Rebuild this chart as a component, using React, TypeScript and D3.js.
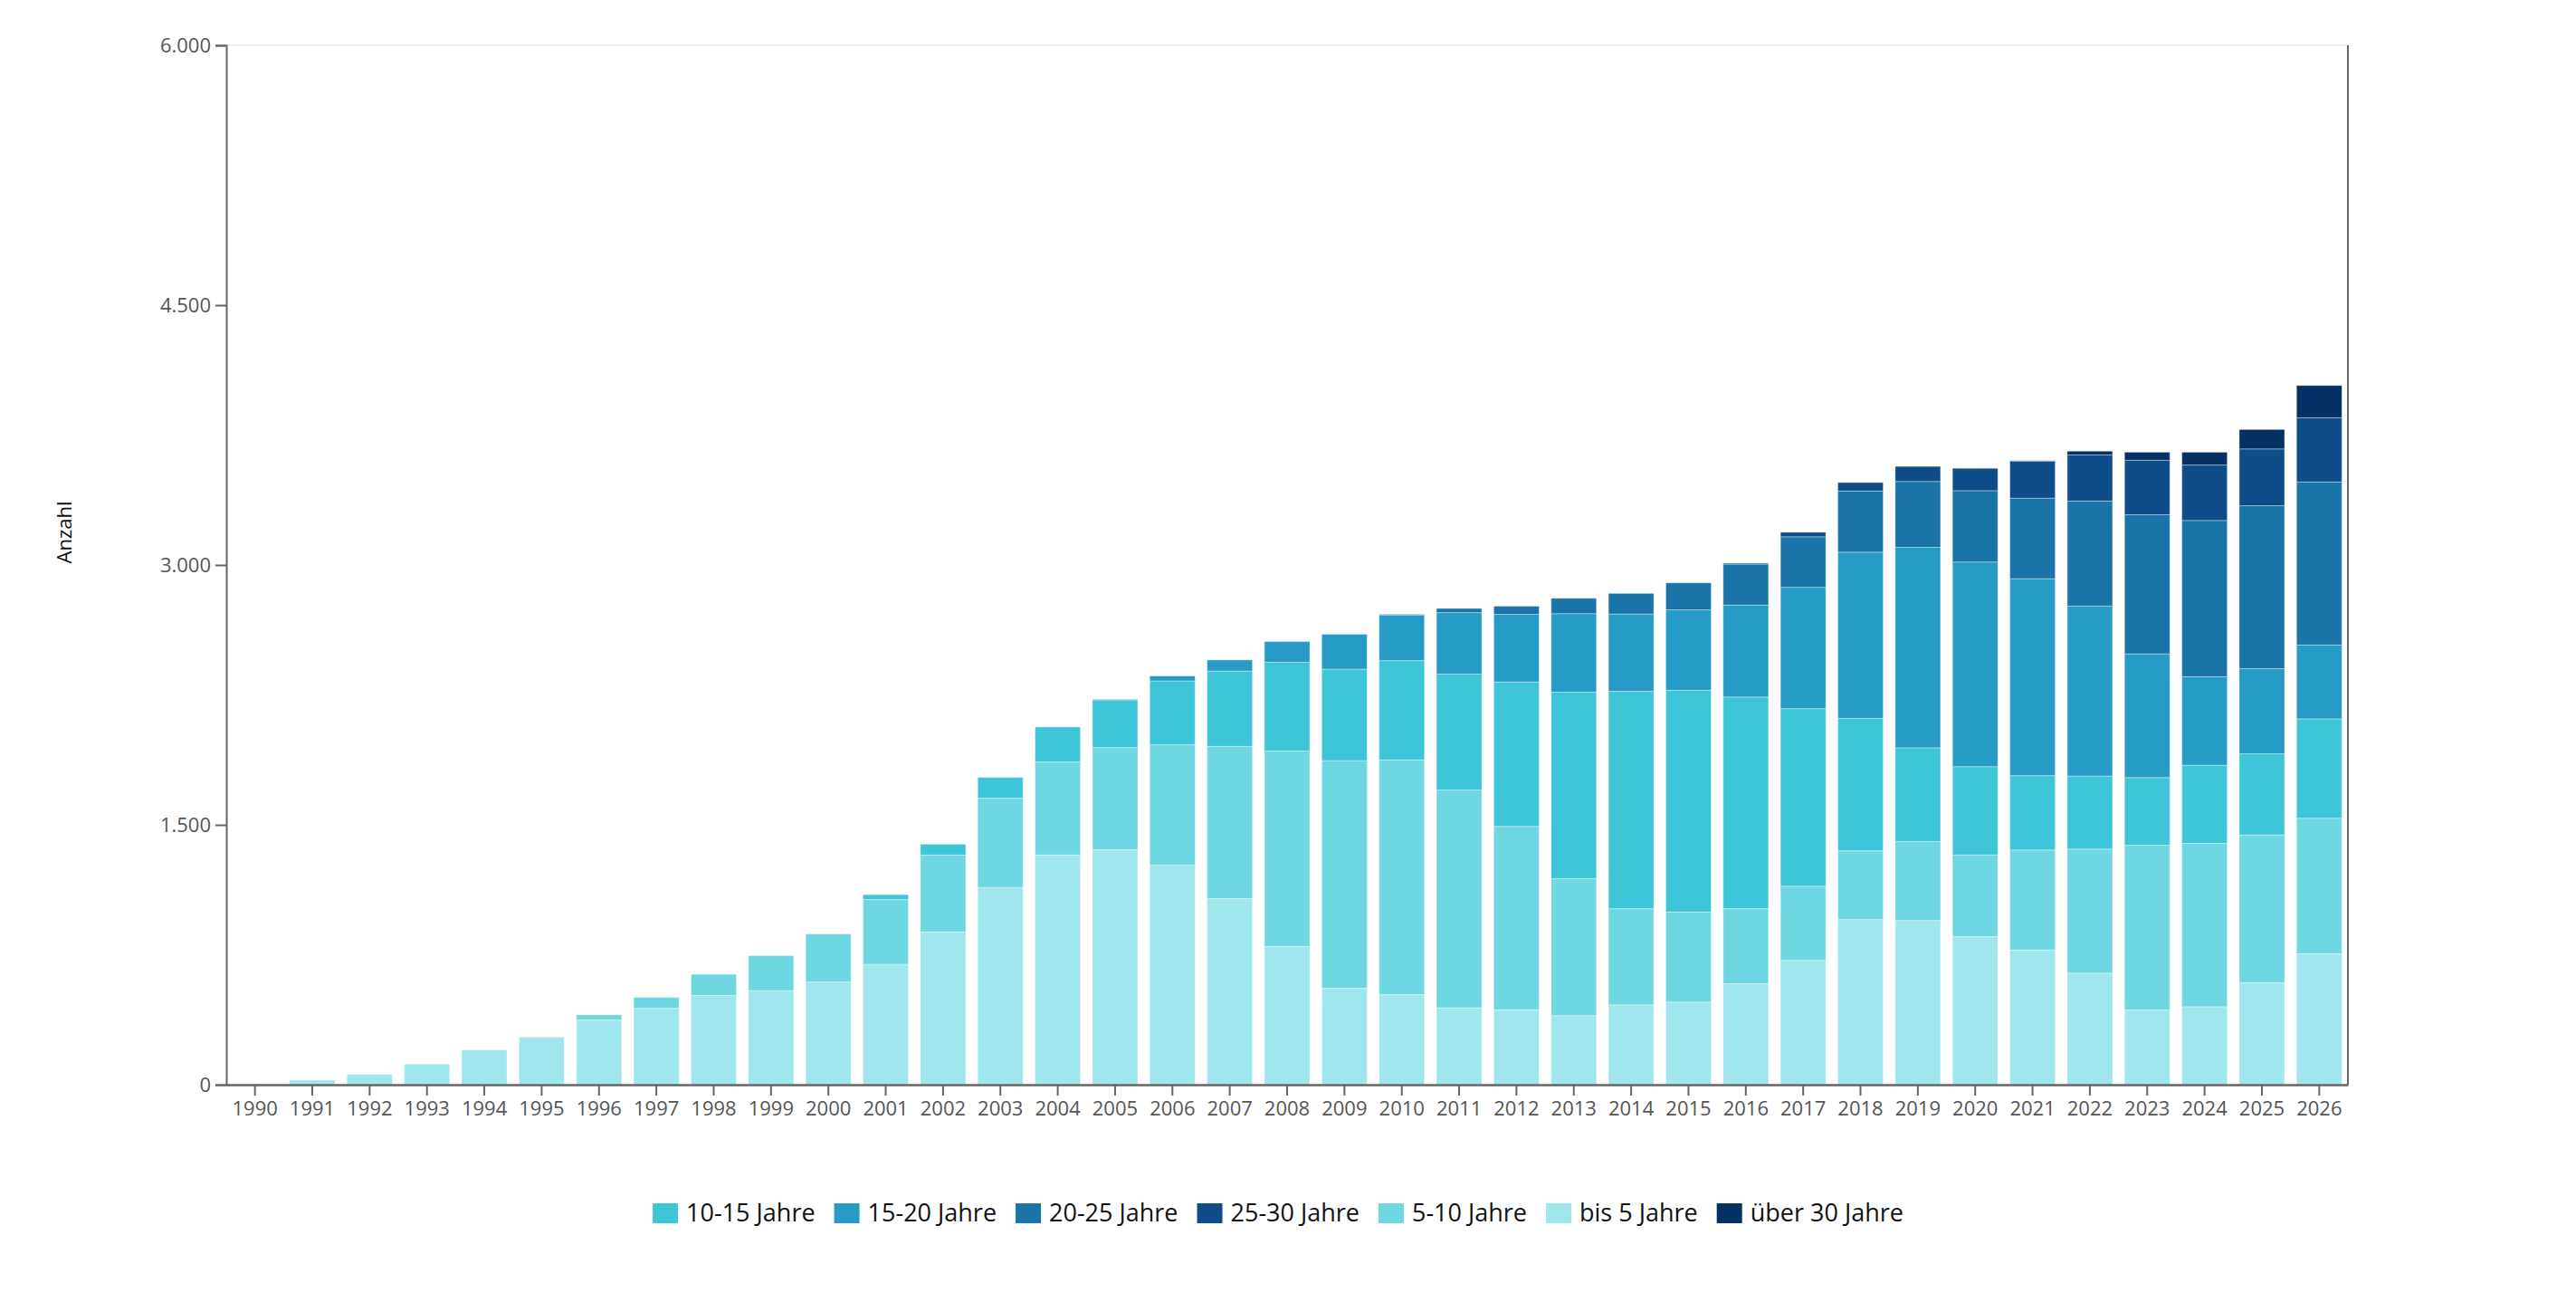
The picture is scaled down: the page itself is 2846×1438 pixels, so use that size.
import { useEffect, useRef } from 'react';
import * as d3 from 'd3';

// Jahre (Kategorien)
const years = [
  '1990', '1991', '1992', '1993', '1994', '1995', '1996', '1997', '1998', '1999',
  '2000', '2001', '2002', '2003', '2004', '2005', '2006', '2007', '2008', '2009',
  '2010', '2011', '2012', '2013', '2014', '2015', '2016', '2017', '2018', '2019',
  '2020', '2021', '2022', '2023', '2024', '2025', '2026',
];

// Werte je Altersklasse, von unten nach oben gestapelt
const bis5 = [5, 27, 60, 119, 201, 274, 374, 441, 515, 543, 593, 695, 882, 1139, 1326, 1357, 1267, 1075, 798, 557, 520, 444, 433, 399, 461, 477, 583, 718, 953, 948, 855, 778, 644, 431, 450, 589, 756];
const j5bis10 = [0, 0, 0, 0, 0, 0, 29, 63, 122, 202, 277, 374, 444, 515, 537, 589, 695, 878, 1128, 1314, 1355, 1257, 1058, 790, 555, 520, 433, 428, 397, 456, 472, 577, 716, 951, 943, 853, 782];
const j10bis15 = [0, 0, 0, 0, 0, 0, 0, 0, 0, 0, 0, 28, 62, 120, 202, 275, 369, 435, 513, 528, 573, 669, 834, 1077, 1255, 1280, 1222, 1025, 765, 541, 509, 429, 422, 391, 451, 468, 574];
const j15bis20 = [0, 0, 0, 0, 0, 0, 0, 0, 0, 0, 0, 0, 0, 0, 0, 3, 28, 64, 119, 201, 263, 355, 390, 453, 446, 464, 531, 700, 959, 1157, 1181, 1137, 981, 714, 511, 492, 426];
const j20bis25 = [0, 0, 0, 0, 0, 0, 0, 0, 0, 0, 0, 0, 0, 0, 0, 0, 0, 0, 0, 0, 4, 24, 47, 89, 119, 156, 236, 292, 353, 380, 412, 465, 606, 803, 902, 940, 941];
const j25bis30 = [0, 0, 0, 0, 0, 0, 0, 0, 0, 0, 0, 0, 0, 0, 0, 0, 0, 0, 0, 0, 0, 0, 0, 0, 0, 0, 5, 26, 49, 87, 129, 213, 266, 315, 320, 328, 371];
const ueber30 = [0, 0, 0, 0, 0, 0, 0, 0, 0, 0, 0, 0, 0, 0, 0, 0, 0, 0, 0, 0, 0, 0, 0, 0, 0, 0, 0, 0, 0, 0, 0, 3, 22, 46, 74, 112, 186];

const stackKeys = ['bis 5 Jahre', '5-10 Jahre', '10-15 Jahre', '15-20 Jahre', '20-25 Jahre', '25-30 Jahre', 'über 30 Jahre'];
const stackValues = [bis5, j5bis10, j10bis15, j15bis20, j20bis25, j25bis30, ueber30];
const legendKeys = ['10-15 Jahre', '15-20 Jahre', '20-25 Jahre', '25-30 Jahre', '5-10 Jahre', 'bis 5 Jahre', 'über 30 Jahre'];
const yTicks = [0, 1500, 3000, 4500, 6000];

const colors: Record<string, string> = {
  'bis 5 Jahre': '#9fe7ec',
  '5-10 Jahre': '#6fd7e2',
  '10-15 Jahre': '#3ec5d8',
  '15-20 Jahre': '#259bc6',
  '20-25 Jahre': '#1a74a8',
  '25-30 Jahre': '#0e4c8a',
  'über 30 Jahre': '#033164',
};

const W = 2846;
const H = 1438;
const FONT = '"Open Sans", "Noto Sans", sans-serif';

export default function App() {
  const svgRef = useRef<SVGSVGElement>(null);

  useEffect(() => {
    if (!svgRef.current) return;
    const svg = d3.select(svgRef.current);
    svg.selectAll('*').remove();

    const margin = { top: 50, right: 252, bottom: 240, left: 250 };
    const x0 = margin.left;
    const x1 = W - margin.right;
    const yTop = margin.top;
    const yBottom = H - margin.bottom;

    const de = d3.formatLocale({ decimal: ',', thousands: '.', grouping: [3], currency: ['', ' €'] });
    const fmt = de.format(',');

    const x = d3.scaleBand<string>()
      .domain(years)
      .range([x0, x1])
      .paddingInner(0.21)
      .paddingOuter(0.105);

    const y = d3.scaleLinear().domain([0, 6000]).range([yBottom, yTop]);

    // Tabelle für d3.stack
    const table = years.map((yr, i) => {
      const row: Record<string, number | string> = { year: yr };
      stackKeys.forEach((k, j) => { row[k] = stackValues[j][i]; });
      return row;
    });
    const series = d3.stack<Record<string, number | string>>().keys(stackKeys)(table as any);

    // obere Rahmenlinie
    svg.append('line')
      .attr('x1', x0).attr('x2', x1)
      .attr('y1', yTop).attr('y2', yTop)
      .attr('stroke', '#f0f0f0').attr('stroke-width', 2);

    // Balken
    svg.append('g')
      .selectAll('g')
      .data(series)
      .join('g')
      .attr('fill', d => colors[d.key])
      .selectAll('rect')
      .data(d => d.filter(s => s[1] - s[0] > 0))
      .join('rect')
      .attr('x', d => x(String(d.data.year))!)
      .attr('width', x.bandwidth())
      .attr('y', d => y(d[1]))
      .attr('height', d => y(d[0]) - y(d[1]))
      .attr('stroke', '#ffffff')
      .attr('stroke-opacity', 0.35)
      .attr('stroke-width', 1);

    // y-Achse
    const yAxis = svg.append('g')
      .attr('transform', `translate(${x0},0)`)
      .call(d3.axisLeft(y).tickValues(yTicks).tickFormat(d => fmt(d as number)).tickSize(12).tickPadding(5));
    yAxis.select('.domain').attr('stroke', '#666').attr('stroke-width', 2);
    yAxis.selectAll('.tick line').attr('stroke', '#666').attr('stroke-width', 2);
    yAxis.selectAll('.tick text')
      .attr('fill', '#555')
      .style('font-family', FONT)
      .style('font-size', '22px');

    // rechte Linie
    svg.append('line')
      .attr('x1', x1).attr('x2', x1)
      .attr('y1', yTop).attr('y2', yBottom)
      .attr('stroke', '#666').attr('stroke-width', 2);

    // x-Achse
    const xAxis = svg.append('g')
      .attr('transform', `translate(0,${yBottom})`)
      .call(d3.axisBottom(x).tickSize(12).tickSizeOuter(0).tickPadding(6));
    xAxis.select('.domain').attr('stroke', '#666').attr('stroke-width', 2.5);
    xAxis.selectAll('.tick line').attr('stroke', '#666').attr('stroke-width', 2);
    xAxis.selectAll('.tick text')
      .attr('fill', '#555')
      .style('font-family', FONT)
      .style('font-size', '22px');

    // y-Titel
    svg.append('text')
      .attr('transform', 'translate(79,588) rotate(-90)')
      .attr('text-anchor', 'middle')
      .style('font-family', FONT)
      .style('font-size', '22px')
      .attr('fill', '#111')
      .text('Anzahl');

    // Legende
    const legend = svg.append('g');
    const sw = 28;
    const sh = 22;
    const gapText = 9;
    const gapItem = 21;
    let cx = 0;
    legendKeys.forEach(k => {
      const item = legend.append('g').attr('transform', `translate(${cx},0)`);
      item.append('rect')
        .attr('x', 0).attr('y', -sh / 2)
        .attr('width', sw).attr('height', sh)
        .attr('fill', colors[k]);
      const t = item.append('text')
        .attr('x', sw + gapText)
        .attr('y', 0)
        .attr('dy', '0.35em')
        .style('font-family', FONT)
        .style('font-size', '27px')
        .attr('fill', '#111')
        .text(k);
      const tw = (t.node() as SVGTextElement).getComputedTextLength();
      cx += sw + gapText + tw + gapItem;
    });
    const total = cx - gapItem;
    legend.attr('transform', `translate(${1412 - total / 2},1340)`);
  }, []);

  return (
    <svg
      ref={svgRef}
      width={W}
      height={H}
      style={{ position: 'absolute', left: 0, top: 0, background: '#fff' }}
    />
  );
}
